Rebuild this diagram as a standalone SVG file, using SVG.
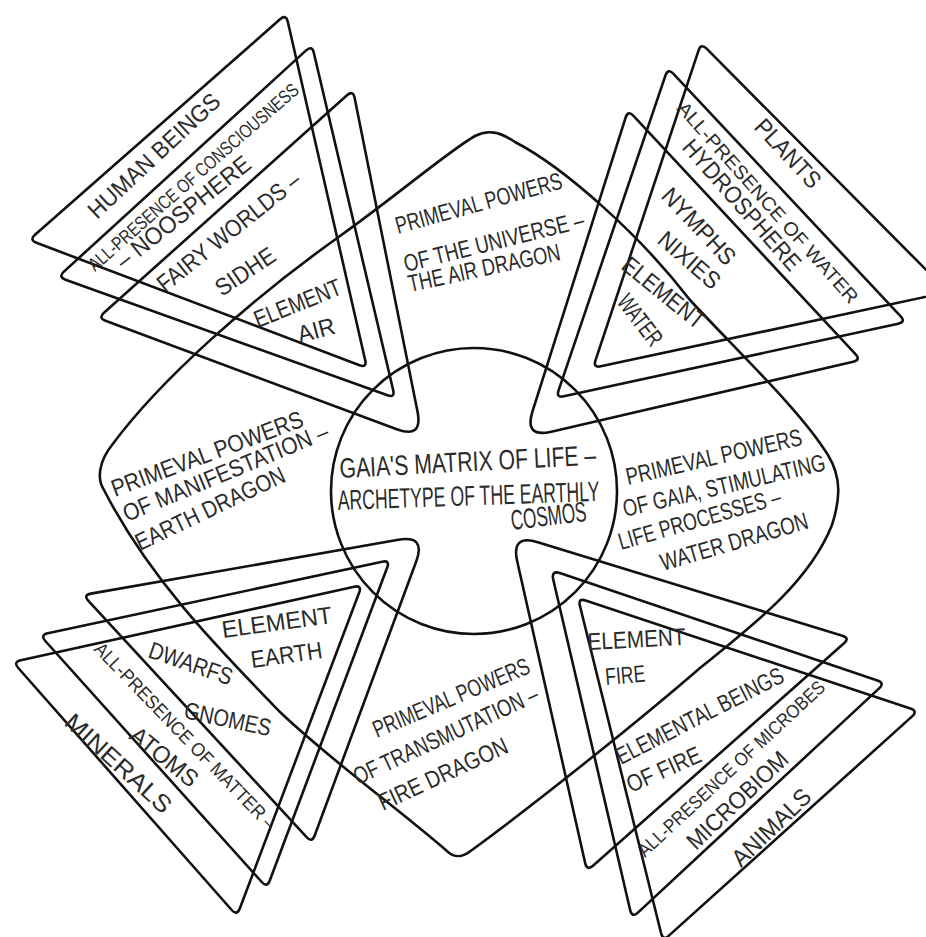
<svg xmlns="http://www.w3.org/2000/svg" width="926" height="937" viewBox="0 0 926 937">
<style>
.s{fill:none;stroke:#111;stroke-width:2.6;stroke-linejoin:round;stroke-linecap:round}
text{font-family:"Liberation Sans Narrow","Liberation Sans",Arial,sans-serif;fill:#2b2b2b}
.t{font-size:24px}
.m{font-size:19px}
.c{font-size:28px}
</style>
<rect width="926" height="937" fill="#fff"/>

<g id="diamond">
<path class="s" d="M104,490 C96,478 100,460 112,445 C160,380 250,300 340,236 C400,193 450,150 475,136 C488,129 500,132 515,142 C565,168 640,235 690,300 C740,354 800,410 828,455 C842,478 840,500 832,525 C810,580 760,620 700,668 C640,720 540,800 472,850 C462,858 455,858 448,852 C400,810 330,760 280,712 C220,650 150,580 104,490 Z"/>
<text class="t" transform="translate(398,234) rotate(-15.5)" textLength="172" lengthAdjust="spacingAndGlyphs">PRIMEVAL POWERS</text>
<text class="t" transform="translate(406,272) rotate(-14)" textLength="185" lengthAdjust="spacingAndGlyphs">OF THE UNIVERSE –</text>
<text class="t" transform="translate(410,292) rotate(-12)" textLength="155" lengthAdjust="spacingAndGlyphs">THE AIR DRAGON</text>
<text class="t" transform="translate(115,497) rotate(-20.5)" textLength="203" lengthAdjust="spacingAndGlyphs">PRIMEVAL POWERS</text>
<text class="t" transform="translate(127,522) rotate(-22.5)" textLength="220" lengthAdjust="spacingAndGlyphs">OF MANIFESTATION –</text>
<text class="t" transform="translate(140,551) rotate(-25.5)" textLength="163" lengthAdjust="spacingAndGlyphs">EARTH DRAGON</text>
<text class="t" transform="translate(628,485) rotate(-12.9)" textLength="180" lengthAdjust="spacingAndGlyphs">PRIMEVAL POWERS</text>
<text class="t" transform="translate(625,517) rotate(-13.1)" textLength="207" lengthAdjust="spacingAndGlyphs">OF GAIA, STIMULATING</text>
<text class="t" transform="translate(621,550) rotate(-16)" textLength="168" lengthAdjust="spacingAndGlyphs">LIFE PROCESSES –</text>
<text class="t" transform="translate(663,571) rotate(-16.3)" textLength="153" lengthAdjust="spacingAndGlyphs">WATER DRAGON</text>
<text class="t" transform="translate(377,738) rotate(-23)" textLength="168" lengthAdjust="spacingAndGlyphs">PRIMEVAL POWERS</text>
<text class="t" transform="translate(358,785) rotate(-25)" textLength="201" lengthAdjust="spacingAndGlyphs">OF TRANSMUTATION –</text>
<text class="t" transform="translate(383,811) rotate(-25)" textLength="140" lengthAdjust="spacingAndGlyphs">FIRE DRAGON</text>
</g>

<g id="center">
<circle class="s" cx="474" cy="491" r="143"/>
<text class="c" transform="translate(340,478) rotate(-3)" textLength="257" lengthAdjust="spacingAndGlyphs">GAIA'S MATRIX OF LIFE –</text>
<text class="c" transform="translate(338,510) rotate(-2)" textLength="262" lengthAdjust="spacingAndGlyphs">ARCHETYPE OF THE EARTHLY</text>
<text class="c" transform="translate(512,530) rotate(-7)" textLength="76" lengthAdjust="spacingAndGlyphs">COSMOS</text>
</g>

<g id="air">
<path class="s" d="M365.2,360.2 L287.8,21.8 Q286,14 280,19.3 L35,234.7 Q29,240 36.5,242.8 L359.5,365.2 Q367,368 365.2,360.2 Z"/>
<path class="s" d="M393.2,390.2 L313.8,52.8 Q312,45 306.1,50.4 L63.9,271.6 Q58,277 65.5,279.7 L387.5,395.3 Q395,398 393.2,390.2 Z"/>
<path class="s" d="M417.5,411.6 L354.6,97.8 Q353,90 347,95.3 L104,312.7 Q98,318 105.5,320.8 L396.8,429.2 Q423,439 417.5,411.6 Z"/>
<text class="t" transform="translate(97,220) rotate(-43)" textLength="171" lengthAdjust="spacingAndGlyphs">HUMAN BEINGS</text>
<text class="m" transform="translate(95,272) rotate(-41.3)" textLength="273" lengthAdjust="spacingAndGlyphs">ALL-PRESENCE OF CONSCIOUSNESS</text>
<text class="t" transform="translate(124,270) rotate(-38.6)" textLength="165" lengthAdjust="spacingAndGlyphs">– NOOSPHERE</text>
<text class="t" transform="translate(165,293) rotate(-38.6)" textLength="176" lengthAdjust="spacingAndGlyphs">FAIRY WORLDS –</text>
<text class="t" transform="translate(222,297) rotate(-34)" textLength="67" lengthAdjust="spacingAndGlyphs">SIDHE</text>
<text class="t" transform="translate(258,328) rotate(-22)" textLength="92" lengthAdjust="spacingAndGlyphs">ELEMENT</text>
<text class="t" transform="translate(300,343) rotate(-15)" textLength="38" lengthAdjust="spacingAndGlyphs">AIR</text>
</g>

<g id="water">
<path class="s" d="M595.5,360.4 L698.5,50.6 Q701,43 706.6,48.7 L942.4,286.3 Q948,292 940.2,293.7 L600.8,366.3 Q593,368 595.5,360.4 Z"/>
<path class="s" d="M558.6,390.4 L665.4,75.6 Q668,68 673.5,73.8 L900.5,316.2 Q906,322 898.2,323.7 L563.8,396.3 Q556,398 558.6,390.4 Z"/>
<path class="s" d="M532.5,411.3 L625.6,117.6 Q628,110 633.5,115.9 L855.5,354.1 Q861,360 853.2,361.8 L551.3,431.7 Q524,438 532.5,411.3 Z"/>
<text class="t" transform="translate(753,128) rotate(47)" textLength="85" lengthAdjust="spacingAndGlyphs">PLANTS</text>
<text class="m" transform="translate(676,109) rotate(48.4)" textLength="262" lengthAdjust="spacingAndGlyphs">ALL-PRESENCE OF WATER</text>
<text class="t" transform="translate(681,148) rotate(48.7)" textLength="166" lengthAdjust="spacingAndGlyphs">HYDROSPHERE</text>
<text class="t" transform="translate(660,197) rotate(46.7)" textLength="96" lengthAdjust="spacingAndGlyphs">NYMPHS</text>
<text class="t" transform="translate(656,242) rotate(41)" textLength="74" lengthAdjust="spacingAndGlyphs">NIXIES</text>
<text class="t" transform="translate(620,268) rotate(39)" textLength="99" lengthAdjust="spacingAndGlyphs">ELEMENT</text>
<text class="t" transform="translate(616,302) rotate(52.7)" textLength="58" lengthAdjust="spacingAndGlyphs">WATER</text>
</g>

<g id="earth">
<path class="s" d="M354.2,586.7 L20.8,660.3 Q13,662 18.3,668 L231.7,910 Q237,916 239.8,908.5 L359.2,592.5 Q362,585 354.2,586.7 Z"/>
<path class="s" d="M382.2,561.7 L47.8,633.3 Q40,635 45.3,641 L261.7,882 Q267,888 269.8,880.5 L387.2,567.5 Q390,560 382.2,561.7 Z"/>
<path class="s" d="M398.4,539.8 L90.9,593.6 Q83,595 88.4,600.9 L306.6,837.1 Q312,843 314.7,835.5 L416.3,561.3 Q426,535 398.4,539.8 Z"/>
<text class="t" transform="translate(223,638) rotate(-7.8)" textLength="111" lengthAdjust="spacingAndGlyphs">ELEMENT</text>
<text class="t" transform="translate(252,668) rotate(-8)" textLength="72" lengthAdjust="spacingAndGlyphs">EARTH</text>
<text class="t" transform="translate(147,657) rotate(19)" textLength="87" lengthAdjust="spacingAndGlyphs">DWARFS</text>
<text class="t" transform="translate(183,718) rotate(12)" textLength="88" lengthAdjust="spacingAndGlyphs">GNOMES</text>
<text class="m" transform="translate(93,650) rotate(46)" textLength="252" lengthAdjust="spacingAndGlyphs">ALL-PRESENCE OF MATTER –</text>
<text class="t" transform="translate(128,738) rotate(39)" textLength="80" lengthAdjust="spacingAndGlyphs">ATOMS</text>
<text class="t" transform="translate(63,724) rotate(42.3)" textLength="135" lengthAdjust="spacingAndGlyphs">MINERALS</text>
</g>

<g id="fire">
<path class="s" d="M585.2,863.2 L517.2,561.3 Q511,534 537.8,542.2 L842.4,635.7 Q850,638 844,643.3 L593,865.7 Q587,871 585.2,863.2 Z"/>
<path class="s" d="M630.2,910.2 L553.3,579.7 Q551,570 560.5,573.2 L877.4,680.4 Q885,683 879.1,688.4 L637.9,912.6 Q632,918 630.2,910.2 Z"/>
<path class="s" d="M661.1,933.2 L579.9,605.8 Q578,598 585.6,600.5 L910.4,708.5 Q918,711 912.1,716.4 L668.9,935.6 Q663,941 661.1,933.2 Z"/>
<text class="t" transform="translate(588,650) rotate(-3)" textLength="98" lengthAdjust="spacingAndGlyphs">ELEMENT</text>
<text class="t" transform="translate(606,685) rotate(-5)" textLength="40" lengthAdjust="spacingAndGlyphs">FIRE</text>
<text class="t" transform="translate(621,765) rotate(-27)" textLength="185" lengthAdjust="spacingAndGlyphs">ELEMENTAL BEINGS</text>
<text class="t" transform="translate(631,793) rotate(-24)" textLength="79" lengthAdjust="spacingAndGlyphs">OF FIRE</text>
<text class="m" transform="translate(645,858) rotate(-43)" textLength="248" lengthAdjust="spacingAndGlyphs">ALL-PRESENCE OF MICROBES</text>
<text class="t" transform="translate(696,851) rotate(-43.7)" textLength="130" lengthAdjust="spacingAndGlyphs">MICROBIOM</text>
<text class="t" transform="translate(741,868) rotate(-44)" textLength="100" lengthAdjust="spacingAndGlyphs">ANIMALS</text>
</g>
</svg>
